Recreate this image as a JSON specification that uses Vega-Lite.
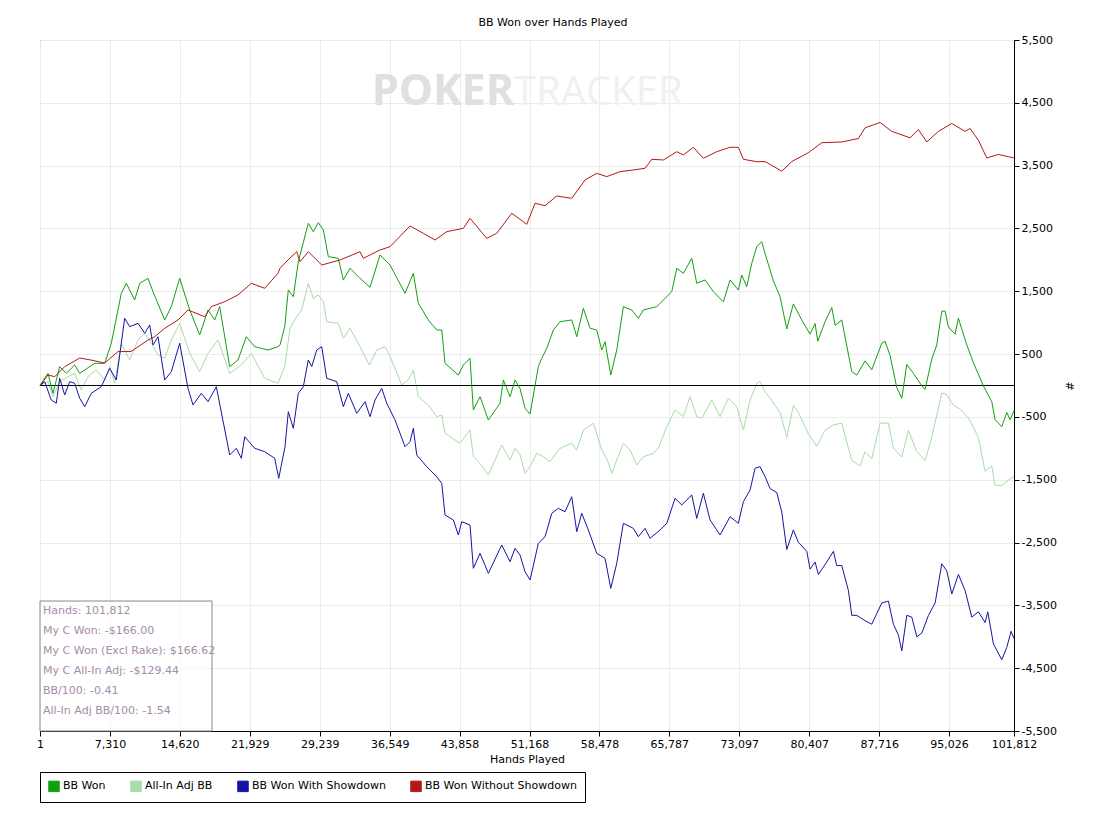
{
  "$schema": "https://vega.github.io/schema/vega-lite/v6.json",
  "width": 974,
  "height": 691,
  "autosize": {"type": "none"},
  "padding": {"left": 40, "top": 40, "right": 93, "bottom": 91},
  "background": "white",
  "title": {"text": "BB Won over Hands Played", "font": "DejaVu Sans", "fontSize": 11, "fontWeight": "normal", "color": "black", "anchor": "middle", "dx": 26, "offset": 6},
  "config": {
    "view": {"stroke": "black", "strokeWidth": 1},
    "font": "DejaVu Sans",
    "axis": {"labelOverlap": false, "labelFlush": false, "labelBound": false},
    "axisY": {"labelOverlap": false, "labelFlush": false, "labelSeparation": -30, "labelLineHeight": 12},
    "axisX": {"labelOverlap": false, "labelFlush": false}
  },
  "datasets": {
    "won": [
      {"h":1,"v":0},{"h":836,"v":194},{"h":1359,"v":-124},{"h":2059,"v":300},{"h":2749,"v":194},{"h":3627,"v":326},{"h":4150,"v":194},{"h":5718,"v":353},{"h":6764,"v":353},{"h":7454,"v":672},{"h":8499,"v":1468},{"h":9022,"v":1627},{"h":9900,"v":1361},{"h":10423,"v":1627},{"h":11290,"v":1707},{"h":11813,"v":1493},{"h":13036,"v":1043},{"h":13726,"v":1255},{"h":14604,"v":1707},{"h":15650,"v":1202},{"h":16695,"v":804},{"h":17563,"v":1202},{"h":18263,"v":1043},{"h":18786,"v":1255},{"h":19831,"v":300},{"h":20699,"v":406},{"h":21567,"v":777},{"h":22445,"v":618},{"h":23835,"v":565},{"h":24881,"v":618},{"h":25090,"v":645},{"h":25581,"v":936},{"h":25957,"v":1520},{"h":26480,"v":1414},{"h":27003,"v":1971},{"h":28048,"v":2582},{"h":28571,"v":2449},{"h":29094,"v":2592},{"h":29616,"v":2476},{"h":30139,"v":2051},{"h":31184,"v":2025},{"h":31707,"v":1680},{"h":32407,"v":1866},{"h":33453,"v":1707},{"h":34498,"v":1563},{"h":35544,"v":2078},{"h":36589,"v":1918},{"h":38157,"v":1468},{"h":39025,"v":1786},{"h":39548,"v":1309},{"h":40593,"v":1043},{"h":41471,"v":884},{"h":41994,"v":884},{"h":42339,"v":353},{"h":43729,"v":167},{"h":44251,"v":326},{"h":44952,"v":433},{"h":45297,"v":-390},{"h":45998,"v":-178},{"h":46866,"v":-549},{"h":48088,"v":-283},{"h":48433,"v":88},{"h":49134,"v":-178},{"h":49657,"v":88},{"h":50179,"v":-50},{"h":50702,"v":-363},{"h":51225,"v":-454},{"h":52093,"v":300},{"h":52448,"v":433},{"h":52971,"v":592},{"h":53661,"v":884},{"h":54361,"v":1016},{"h":55584,"v":1043},{"h":56107,"v":777},{"h":56797,"v":1229},{"h":57497,"v":911},{"h":58197,"v":884},{"h":58720,"v":565},{"h":59065,"v":697},{"h":59661,"v":167},{"h":60288,"v":565},{"h":60978,"v":1255},{"h":61856,"v":1202},{"h":62546,"v":1070},{"h":63069,"v":1202},{"h":64469,"v":1255},{"h":65515,"v":1414},{"h":66037,"v":1493},{"h":66561,"v":1866},{"h":67251,"v":1786},{"h":68128,"v":2025},{"h":68651,"v":1627},{"h":69519,"v":1680},{"h":70387,"v":1493},{"h":71433,"v":1334},{"h":72133,"v":1680},{"h":72999,"v":1520},{"h":73355,"v":1759},{"h":73877,"v":1573},{"h":74400,"v":1945},{"h":74924,"v":2210},{"h":75446,"v":2289},{"h":75792,"v":2100},{"h":76660,"v":1667},{"h":77360,"v":1412},{"h":78060,"v":901},{"h":78750,"v":1299},{"h":79628,"v":1043},{"h":80496,"v":817},{"h":81019,"v":987},{"h":81301,"v":704},{"h":82064,"v":1016},{"h":82765,"v":1242},{"h":83110,"v":958},{"h":83810,"v":1043},{"h":84856,"v":221},{"h":85378,"v":165},{"h":86246,"v":392},{"h":86946,"v":250},{"h":87992,"v":675},{"h":88336,"v":704},{"h":88859,"v":476},{"h":89559,"v":-33},{"h":90082,"v":-204},{"h":90605,"v":336},{"h":91295,"v":194},{"h":92173,"v":-5},{"h":92518,"v":-62},{"h":93218,"v":420},{"h":93741,"v":646},{"h":94264,"v":1184},{"h":94609,"v":1184},{"h":94954,"v":930},{"h":95654,"v":817},{"h":96000,"v":1071},{"h":96877,"v":646},{"h":97567,"v":363},{"h":98612,"v":-5},{"h":99490,"v":-259},{"h":99836,"v":-543},{"h":100536,"v":-656},{"h":101059,"v":-430},{"h":101404,"v":-543},{"h":101812,"v":-400}
    ],
    "adj": [
      {"h":1,"v":0},{"h":836,"v":61},{"h":1359,"v":-178},{"h":2059,"v":61},{"h":2927,"v":141},{"h":3627,"v":194},{"h":4317,"v":-72},{"h":5018,"v":141},{"h":5885,"v":247},{"h":6764,"v":88},{"h":7287,"v":300},{"h":7810,"v":35},{"h":8499,"v":672},{"h":9377,"v":406},{"h":10245,"v":724},{"h":10946,"v":831},{"h":11636,"v":672},{"h":12336,"v":486},{"h":13036,"v":433},{"h":13726,"v":724},{"h":14604,"v":990},{"h":15650,"v":513},{"h":16695,"v":220},{"h":17563,"v":513},{"h":18608,"v":724},{"h":19831,"v":194},{"h":21044,"v":326},{"h":22089,"v":513},{"h":23490,"v":115},{"h":24881,"v":35},{"h":25581,"v":300},{"h":25926,"v":672},{"h":26135,"v":911},{"h":26835,"v":1096},{"h":27358,"v":1202},{"h":28048,"v":1627},{"h":28571,"v":1388},{"h":29094,"v":1441},{"h":29616,"v":1334},{"h":29972,"v":1016},{"h":31184,"v":990},{"h":31707,"v":751},{"h":32407,"v":911},{"h":33453,"v":618},{"h":34425,"v":326},{"h":35199,"v":565},{"h":36066,"v":618},{"h":36589,"v":459},{"h":37112,"v":274},{"h":37812,"v":8},{"h":38502,"v":88},{"h":39025,"v":247},{"h":39548,"v":-178},{"h":40593,"v":-310},{"h":41471,"v":-496},{"h":41994,"v":-470},{"h":42339,"v":-761},{"h":43907,"v":-920},{"h":44952,"v":-708},{"h":45297,"v":-1133},{"h":45998,"v":-1239},{"h":46866,"v":-1425},{"h":48266,"v":-947},{"h":49134,"v":-1186},{"h":49657,"v":-1000},{"h":50179,"v":-1100},{"h":50702,"v":-1398},{"h":51225,"v":-1292},{"h":51925,"v":-1080},{"h":52615,"v":-1133},{"h":53315,"v":-1213},{"h":54361,"v":-1000},{"h":55584,"v":-920},{"h":56107,"v":-1027},{"h":56797,"v":-708},{"h":57842,"v":-602},{"h":58720,"v":-1027},{"h":59306,"v":-1186},{"h":59766,"v":-1398},{"h":60288,"v":-1186},{"h":60978,"v":-920},{"h":61679,"v":-1027},{"h":62379,"v":-1266},{"h":63069,"v":-1133},{"h":64115,"v":-1080},{"h":64637,"v":-1000},{"h":65515,"v":-656},{"h":66383,"v":-390},{"h":67251,"v":-496},{"h":67951,"v":-178},{"h":68651,"v":-496},{"h":69174,"v":-522},{"h":70219,"v":-231},{"h":71087,"v":-496},{"h":71955,"v":-204},{"h":72833,"v":-337},{"h":73524,"v":-708},{"h":74223,"v":-231},{"h":74924,"v":35},{"h":75269,"v":61},{"h":75792,"v":-95},{"h":76314,"v":-200},{"h":77360,"v":-430},{"h":78060,"v":-826},{"h":78750,"v":-317},{"h":79273,"v":-430},{"h":80318,"v":-769},{"h":81196,"v":-968},{"h":82064,"v":-713},{"h":82934,"v":-627},{"h":83810,"v":-600},{"h":84856,"v":-1194},{"h":85723,"v":-1280},{"h":86246,"v":-1052},{"h":86946,"v":-1167},{"h":87814,"v":-600},{"h":88682,"v":-600},{"h":89204,"v":-997},{"h":90082,"v":-1138},{"h":90777,"v":-713},{"h":91650,"v":-1052},{"h":92518,"v":-1194},{"h":93218,"v":-826},{"h":94264,"v":-118},{"h":94787,"v":-146},{"h":95477,"v":-317},{"h":96177,"v":-373},{"h":97044,"v":-514},{"h":98090,"v":-826},{"h":98790,"v":-1364},{"h":99490,"v":-1280},{"h":99836,"v":-1590},{"h":100536,"v":-1590},{"h":101225,"v":-1506},{"h":101812,"v":-1449}
    ],
    "sd": [
      {"h":1,"v":0},{"h":491,"v":61},{"h":1181,"v":-231},{"h":1704,"v":-283},{"h":2059,"v":115},{"h":2582,"v":-151},{"h":3105,"v":61},{"h":3627,"v":35},{"h":4150,"v":-204},{"h":4673,"v":-337},{"h":5363,"v":-124},{"h":6408,"v":-19},{"h":7287,"v":274},{"h":7976,"v":88},{"h":8854,"v":1070},{"h":9377,"v":936},{"h":10245,"v":990},{"h":10946,"v":831},{"h":11468,"v":963},{"h":11813,"v":645},{"h":12336,"v":777},{"h":13036,"v":88},{"h":13726,"v":220},{"h":14604,"v":672},{"h":15472,"v":-45},{"h":15995,"v":-310},{"h":16862,"v":-124},{"h":17563,"v":-258},{"h":18431,"v":-19},{"h":19831,"v":-1106},{"h":20522,"v":-1000},{"h":21044,"v":-1159},{"h":21400,"v":-815},{"h":22445,"v":-1000},{"h":23490,"v":-1054},{"h":24535,"v":-1159},{"h":24954,"v":-1477},{"h":25612,"v":-974},{"h":25957,"v":-417},{"h":26480,"v":-681},{"h":27003,"v":-124},{"h":27525,"v":-19},{"h":28048,"v":406},{"h":28404,"v":300},{"h":28926,"v":565},{"h":29449,"v":618},{"h":29972,"v":115},{"h":31017,"v":61},{"h":31707,"v":-337},{"h":32230,"v":-124},{"h":33108,"v":-443},{"h":33976,"v":-258},{"h":34498,"v":-496},{"h":35021,"v":-231},{"h":35721,"v":-45},{"h":36244,"v":-283},{"h":37112,"v":-549},{"h":38157,"v":-974},{"h":38680,"v":-894},{"h":39025,"v":-681},{"h":39380,"v":-1106},{"h":40425,"v":-1292},{"h":41471,"v":-1452},{"h":41994,"v":-1557},{"h":42339,"v":-2061},{"h":43207,"v":-2141},{"h":43729,"v":-2380},{"h":44085,"v":-2168},{"h":44952,"v":-2221},{"h":45297,"v":-2910},{"h":45998,"v":-2671},{"h":46866,"v":-2990},{"h":48266,"v":-2539},{"h":49134,"v":-2805},{"h":49657,"v":-2592},{"h":50179,"v":-2700},{"h":50702,"v":-2964},{"h":51225,"v":-3096},{"h":52093,"v":-2512},{"h":52793,"v":-2407},{"h":53494,"v":-2035},{"h":54184,"v":-1955},{"h":54884,"v":-2009},{"h":55584,"v":-1770},{"h":56107,"v":-2327},{"h":56630,"v":-2035},{"h":57320,"v":-2300},{"h":58197,"v":-2672},{"h":59065,"v":-2751},{"h":59661,"v":-3229},{"h":60288,"v":-2831},{"h":60978,"v":-2194},{"h":62024,"v":-2274},{"h":62546,"v":-2407},{"h":63247,"v":-2274},{"h":63769,"v":-2433},{"h":64815,"v":-2300},{"h":65515,"v":-2194},{"h":66383,"v":-1796},{"h":67083,"v":-1902},{"h":68128,"v":-1743},{"h":68651,"v":-2115},{"h":69342,"v":-1716},{"h":70042,"v":-2141},{"h":71087,"v":-2380},{"h":72133,"v":-2089},{"h":72999,"v":-2194},{"h":73524,"v":-1849},{"h":74223,"v":-1664},{"h":74746,"v":-1318},{"h":75269,"v":-1292},{"h":75792,"v":-1450},{"h":76314,"v":-1640},{"h":77016,"v":-1705},{"h":77538,"v":-2016},{"h":78060,"v":-2611},{"h":78750,"v":-2299},{"h":79273,"v":-2498},{"h":80151,"v":-2640},{"h":80496,"v":-2923},{"h":81019,"v":-2810},{"h":81364,"v":-3008},{"h":82237,"v":-2810},{"h":82934,"v":-2640},{"h":83277,"v":-2866},{"h":83810,"v":-2866},{"h":84500,"v":-3262},{"h":84856,"v":-3659},{"h":85378,"v":-3659},{"h":86246,"v":-3744},{"h":86946,"v":-3800},{"h":87992,"v":-3461},{"h":88682,"v":-3432},{"h":89204,"v":-3800},{"h":89728,"v":-3971},{"h":90082,"v":-4225},{"h":90605,"v":-3659},{"h":91127,"v":-3687},{"h":91650,"v":-3999},{"h":92173,"v":-3942},{"h":92869,"v":-3659},{"h":93569,"v":-3461},{"h":94264,"v":-2837},{"h":94787,"v":-2951},{"h":95310,"v":-3319},{"h":96000,"v":-3008},{"h":96700,"v":-3262},{"h":97400,"v":-3687},{"h":98090,"v":-3603},{"h":98790,"v":-3773},{"h":99072,"v":-3603},{"h":99659,"v":-4112},{"h":100536,"v":-4367},{"h":101059,"v":-4169},{"h":101508,"v":-3913},{"h":101812,"v":-4028}
    ],
    "nsd": [
      {"h":1,"v":0},{"h":836,"v":168},{"h":1537,"v":140},{"h":2582,"v":300},{"h":4150,"v":437},{"h":5332,"v":405},{"h":6764,"v":357},{"h":8154,"v":540},{"h":9513,"v":540},{"h":11290,"v":724},{"h":11991,"v":777},{"h":13036,"v":910},{"h":14427,"v":1043},{"h":15472,"v":1202},{"h":17218,"v":1095},{"h":17908,"v":1255},{"h":19309,"v":1334},{"h":20699,"v":1441},{"h":22089,"v":1627},{"h":23490,"v":1547},{"h":24881,"v":1786},{"h":25090,"v":1866},{"h":25926,"v":1998},{"h":26835,"v":2130},{"h":27180,"v":1971},{"h":28048,"v":2130},{"h":29449,"v":1918},{"h":31362,"v":1998},{"h":33453,"v":2130},{"h":33798,"v":2025},{"h":35544,"v":2157},{"h":36589,"v":2210},{"h":38680,"v":2539},{"h":40070,"v":2423},{"h":41293,"v":2316},{"h":42516,"v":2449},{"h":44251,"v":2502},{"h":44952,"v":2662},{"h":46697,"v":2343},{"h":47743,"v":2423},{"h":49311,"v":2741},{"h":50179,"v":2646},{"h":50879,"v":2566},{"h":51747,"v":2900},{"h":52793,"v":2863},{"h":54016,"v":3017},{"h":55584,"v":2980},{"h":56974,"v":3272},{"h":58197,"v":3378},{"h":59243,"v":3325},{"h":60633,"v":3404},{"h":62024,"v":3431},{"h":63247,"v":3458},{"h":63947,"v":3601},{"h":65160,"v":3590},{"h":66561,"v":3722},{"h":67251,"v":3670},{"h":68296,"v":3792},{"h":69342,"v":3617},{"h":70742,"v":3722},{"h":72133,"v":3792},{"h":72999,"v":3792},{"h":73524,"v":3601},{"h":74924,"v":3563},{"h":75792,"v":3565},{"h":77538,"v":3412},{"h":78583,"v":3565},{"h":80318,"v":3706},{"h":81719,"v":3865},{"h":83810,"v":3877},{"h":85545,"v":3932},{"h":86246,"v":4103},{"h":87814,"v":4187},{"h":89037,"v":4045},{"h":90950,"v":3943},{"h":91818,"v":4074},{"h":92696,"v":3877},{"h":93909,"v":4045},{"h":95310,"v":4171},{"h":96700,"v":4045},{"h":97222,"v":4091},{"h":98090,"v":3905},{"h":98968,"v":3622},{"h":100181,"v":3678},{"h":101812,"v":3622}
    ],
    "one": [{}]
  },
  "layer": [
    {
      "data": {"name": "adj"},
      "mark": {"type": "line", "strokeWidth": 1},
      "encoding": {
        "x": {
          "field": "h", "type": "quantitative",
          "scale": {"domain": [1, 101812], "nice": false, "zero": false},
          "axis": {
            "title": "Hands Played",
            "values": [1, 7310, 14620, 21929, 29239, 36549, 43858, 51168, 58478, 65787, 73097, 80407, 87716, 95026, 101812],
            "labelExpr": "replace(format(datum.value, ','), '−', '-')",
            "labelFlush": false,
            "labelOverlap": false,
            "labelFont": "DejaVu Sans", "labelFontSize": 11, "labelColor": "black", "labelPadding": 2,
            "titleFont": "DejaVu Sans", "titleFontSize": 11, "titleFontWeight": "normal", "titleColor": "black", "titlePadding": 4,
            "domainColor": "black", "tickColor": "black", "tickSize": 5,
            "grid": true, "gridColor": "#ebebeb"
          }
        },
        "y": {
          "field": "v", "type": "quantitative",
          "scale": {"domain": [-5500, 5500], "nice": false, "zero": false},
          "axis": {
            "orient": "right", "title": "#", "titleAngle": 90,
            "values": [-5500,-5000,-4500,-4000,-3500,-3000,-2500,-2000,-1500,-1000,-500,0,500,1000,1500,2000,2500,3000,3500,4000,4500,5000,5500],
            "labelExpr": "replace(format(datum.value, ','), '−', '-')",
            "labelOverlap": false, "labelFlush": false, "labelSeparation": -30, "labelLineHeight": 12,
            "labelFont": "DejaVu Sans", "labelFontSize": 11, "labelColor": "black", "labelPadding": 2,
            "titleFont": "DejaVu Sans", "titleFontSize": 11, "titleFontWeight": "normal", "titleColor": "black", "titlePadding": 7,
            "domainColor": "black", "tickColor": "black", "tickSize": 5,
            "grid": true, "gridColor": "#ebebeb"
          }
        },
        "color": {
          "datum": "All-In Adj BB",
          "type": "nominal",
          "scale": {"domain": ["BB Won", "All-In Adj BB", "BB Won With Showdown", "BB Won Without Showdown"], "range": ["#11a011", "#a8dca8", "#1414a4", "#b41818"]},
          "legend": {
            "orient": "none", "legendX": 0, "legendY": 732, "direction": "horizontal", "title": null,
            "strokeColor": "black", "fillColor": "white", "padding": 8, "columnPadding": 22,
            "symbolType": "square", "symbolSize": 110, "symbolStrokeWidth": 1,
            "labelFont": "DejaVu Sans", "labelFontSize": 11, "labelColor": "black", "labelOffset": 3,
            "encode": {"symbols": {"update": {"fill": {"scale": "color", "field": "value"}, "stroke": {"value": "#333333"}, "strokeWidth": {"value": 1}, "opacity": {"value": 1}}}}
          }
        }
      }
    },
    {
      "data": {"name": "one"},
      "mark": {"type": "text", "text": "POKER", "font": "Open Sans", "fontWeight": "bold", "fontSize": 43, "color": "#e0e0e0", "align": "right", "baseline": "alphabetic"},
      "encoding": {"x": {"datum": 49552, "type": "quantitative"}, "y": {"datum": 4466, "type": "quantitative"}}
    },
    {
      "data": {"name": "one"},
      "mark": {"type": "text", "text": "TRACKER", "font": "Open Sans", "fontSize": 40, "color": "#f0f0f0", "align": "left", "baseline": "alphabetic"},
      "encoding": {"x": {"datum": 49552, "type": "quantitative"}, "y": {"datum": 4466, "type": "quantitative"}}
    },
    {
      "data": {"name": "one"},
      "mark": {"type": "rule", "color": "black", "strokeWidth": 1},
      "encoding": {"y": {"datum": 0, "type": "quantitative"}}
    },
    {
      "data": {"name": "one"},
      "mark": {"type": "rect", "fill": "white", "fillOpacity": 0.6, "stroke": "#888888", "strokeWidth": 1},
      "encoding": {"x": {"datum": 1, "type": "quantitative"}, "x2": {"datum": 17981}, "y": {"datum": -3431, "type": "quantitative"}, "y2": {"datum": -5500}}
    },
    {
      "data": {"name": "sd"},
      "mark": {"type": "line", "strokeWidth": 1},
      "encoding": {
        "x": {"field": "h", "type": "quantitative"},
        "y": {"field": "v", "type": "quantitative"},
        "color": {"datum": "BB Won With Showdown", "type": "nominal"}
      }
    },
    {
      "data": {"name": "won"},
      "mark": {"type": "line", "strokeWidth": 1},
      "encoding": {
        "x": {"field": "h", "type": "quantitative"},
        "y": {"field": "v", "type": "quantitative"},
        "color": {"datum": "BB Won", "type": "nominal"}
      }
    },
    {
      "data": {"name": "nsd"},
      "mark": {"type": "line", "strokeWidth": 1},
      "encoding": {
        "x": {"field": "h", "type": "quantitative"},
        "y": {"field": "v", "type": "quantitative"},
        "color": {"datum": "BB Won Without Showdown", "type": "nominal"}
      }
    },
    {
      "data": {"name": "one"},
      "mark": {"type": "text", "text": ["Hands: 101,812", "My C Won: -$166.00", "My C Won (Excl Rake): $166.62", "My C All-In Adj: -$129.44", "BB/100: -0.41", "All-In Adj BB/100: -1.54"], "lineHeight": 20, "font": "DejaVu Sans", "fontSize": 11, "color": "#a58ca8", "align": "left", "baseline": "top"},
      "encoding": {"x": {"datum": 314, "type": "quantitative"}, "y": {"datum": -3494, "type": "quantitative"}}
    }
  ]
}
